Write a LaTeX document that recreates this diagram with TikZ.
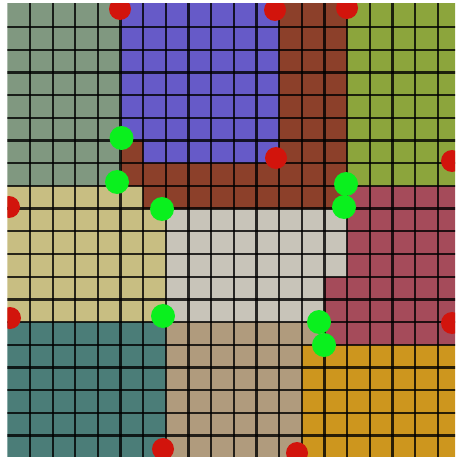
\documentclass[tikz,border=0pt]{standalone}
\definecolor{cgg}{RGB}{128,152,128}
\definecolor{cblue}{RGB}{102,90,200}
\definecolor{cbrown}{RGB}{140,64,42}
\definecolor{colive}{RGB}{140,165,60}
\definecolor{cyel}{RGB}{200,190,130}
\definecolor{cgrey}{RGB}{200,196,185}
\definecolor{cpink}{RGB}{165,75,90}
\definecolor{cteal}{RGB}{75,125,120}
\definecolor{ctan}{RGB}{176,155,125}
\definecolor{corange}{RGB}{205,150,30}
\definecolor{cred}{RGB}{210,20,12}
\definecolor{cgreen}{RGB}{10,240,30}
\tikzset{
  gridline/.style={line width=2.3pt, draw=black, opacity=0.8},
  reddot/.style={fill=cred},
  greendot/.style={fill=cgreen}
}
\begin{document}
\begin{tikzpicture}[x=1pt,y=-1pt]
\useasboundingbox (0,0) rectangle (455,457);
\fill[white] (0,0) rectangle (455,457);
\begin{scope}
\clip (7.35,3.5) rectangle (455,457);
\begin{scope}[shift={(7.35,4.3)}, x=22.65pt, y=-22.7pt]
  \fill[cgg] (-1,-1) rectangle (5,8);
  \fill[cblue] (5,-1) rectangle (12,6);
  \fill[cblue] (6,6) rectangle (12,7);
  \fill[colive] (15,-1) rectangle (21,8);
  \fill[cyel] (-1,8) rectangle (7,14);
  \fill[cgrey] (7,9) rectangle (15,14);
  \fill[cpink] (15,8) rectangle (21,15);
  \fill[cpink] (14,12) rectangle (15,15);
  \fill[cteal] (-1,14) rectangle (7,21);
  \fill[ctan] (7,14) rectangle (14,15);
  \fill[ctan] (7,15) rectangle (13,21);
  \fill[corange] (13,15) rectangle (21,21);
  \fill[cbrown] (12,-1) rectangle (15,9);
  \fill[cbrown] (6,7) rectangle (12,9);
  \fill[cbrown] (5,6) rectangle (6,8);
  \foreach \i in {1,...,19} \draw[gridline] (\i,-1) -- (\i,21);
  \foreach \j in {1,...,19} \draw[gridline] (-1,\j) -- (21,\j);
\end{scope}
% red dots
\foreach \p in {(120,9),(275,10),(347,8),(276,158),(452,161),(452,323),(9,207),(10,318),(163,449),(297,453)}
  \fill[reddot] \p circle (11);
% green dots
\foreach \p in {(121.5,138),(117,182),(162,209),(346,184),(344,207),(163,316),(319,322),(324,345)}
  \fill[greendot] \p circle (12);
\end{scope}
\end{tikzpicture}
\end{document}
